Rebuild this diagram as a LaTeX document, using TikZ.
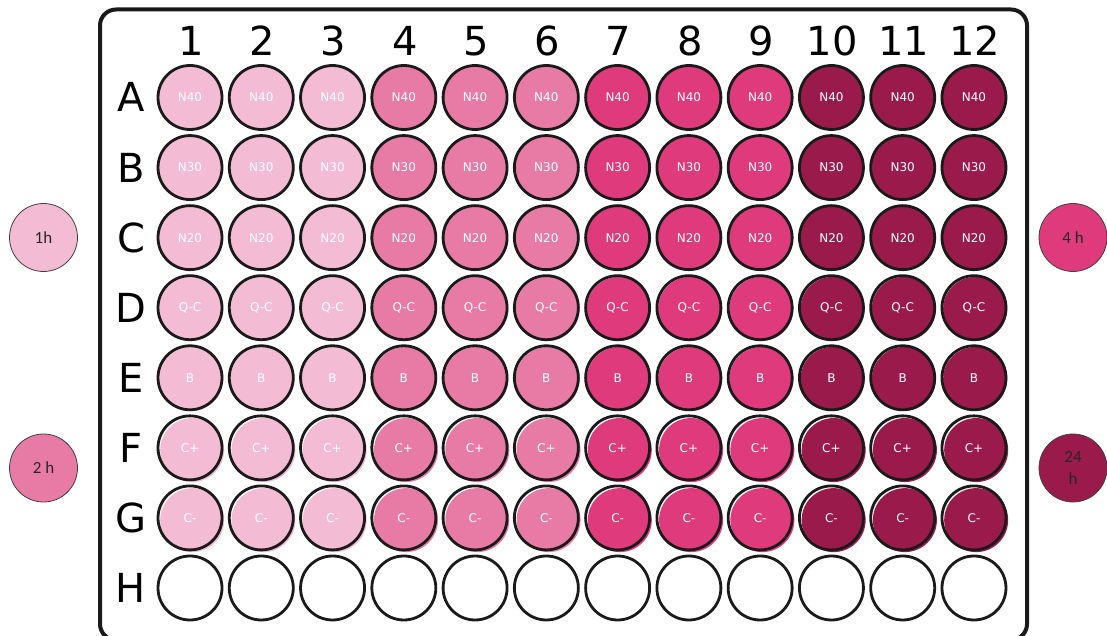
\documentclass[tikz,border=0pt]{standalone}
\usepackage{fontspec}
\setmainfont{DejaVu Sans}
\newfontfamily\legendfont{Carlito}
\usepackage{xcolor}
\usepackage{tikz}
\usetikzlibrary{positioning,calc}
\definecolor{tonelight}{HTML}{F3BCD4}
\definecolor{tonemid}{HTML}{E87BA6}
\definecolor{tonehot}{HTML}{DF3B7C}
\definecolor{tonedark}{HTML}{9A1A4C}
\definecolor{rimgray}{HTML}{1A1A1A}

\begin{document}
\begin{tikzpicture}[
  x=1pt, y=-1pt,
  plate/.style={draw=rimgray, line width=4pt, rounded corners=16pt},
  well/.style={circle, draw=rimgray, line width=2.8pt, minimum size=64pt,
    inner sep=0pt, font=\fontsize{12}{14}\selectfont, text=white},
  wellfill/.style={circle, minimum size=64pt, inner sep=0pt},
  rowlabel/.style={font=\fontsize{40}{48}\selectfont, anchor=base},
  collabel/.style={font=\fontsize{40}{48}\selectfont, anchor=base},
  legend/.style={circle, draw=black!75, line width=0.8pt, minimum size=68pt,
    inner sep=0pt, align=center, text=black!85,
    font=\legendfont\fontsize{17}{22}\selectfont}
]
\useasboundingbox (0,0) rectangle (1107,636);
\draw[plate] (100,9.5) rectangle (1027,640);
% column numbers
\foreach \c in {1,...,12}
  \node[collabel] (col\c) at ({191+71.27*(\c-1)},55.5) {\c};
% filled rows
\foreach \r/\txt/\sh [count=\i from 0] in {A/N40/0.8,B/N30/0.8,C/N20/0.8,
    D/Q-C/1.2,E/B/1.2,F/C+/2.2,G/C-/2.2} {
  \node[rowlabel] (row\r) at (131,{97.5+70.07*\i+14.5}) {\r};
  \foreach \c/\tone in {1/tonelight,2/tonelight,3/tonelight,4/tonemid,
      5/tonemid,6/tonemid,7/tonehot,8/tonehot,9/tonehot,10/tonedark,
      11/tonedark,12/tonedark} {
    \node[wellfill, fill=\tone] (s\r\c) at ({190+71.27*(\c-1)+\sh},{97.5+70.07*\i+\sh}) {};
    \node[well] (\r\c) at ({190+71.27*(\c-1)},{97.5+70.07*\i}) {\txt};
  }
}
% empty row
\node[rowlabel] (rowH) at (131,{97.5+70.07*7+14.5}) {H};
\foreach \c in {1,...,12}
  \node[well] (H\c) at ({190+71.27*(\c-1)},{97.5+70.07*7}) {};
% time legend
\node[legend, fill=tonelight] (leg1) at (43.5,237.5) {1h};
\node[legend, fill=tonemid] (leg2) at (43.5,468) {2 h};
\node[legend, fill=tonehot] (leg4) at (1073,237.5) {4 h};
\node[legend, fill=tonedark] (leg24) at (1073,468) {24\\h};
\end{tikzpicture}
\end{document}
